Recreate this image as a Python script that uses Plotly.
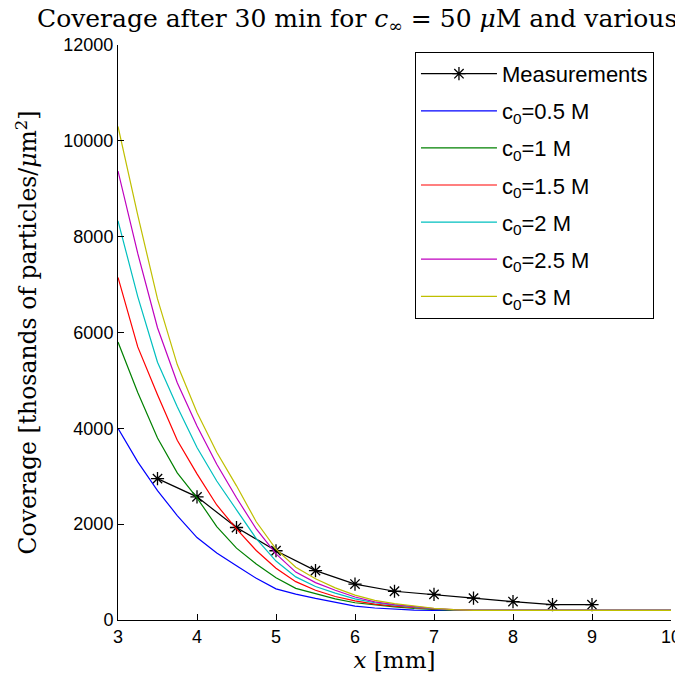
import plotly.graph_objects as go

# Measurements
meas_x = [3.5, 4.0, 4.5, 5.0, 5.5, 6.0, 6.5, 7.0, 7.5, 8.0, 8.5, 9.0]
meas_y = [2950, 2570, 1930, 1445, 1030, 750, 600, 535, 455, 385, 320, 320]

# Simulated coverage curves (x grid in mm)
sim_x = [3.0, 3.25, 3.5, 3.75, 4.0, 4.25, 4.5, 4.75, 5.0, 5.25, 5.5, 5.75,
         6.0, 6.25, 6.5, 6.75, 7.0, 7.25, 7.5, 10.0]
c05 = [4000, 3300, 2700, 2180, 1720, 1400, 1130, 870, 650, 540, 450, 370,
       290, 250, 225, 205, 200, 200, 200, 200]
c1 = [5800, 4750, 3800, 3070, 2550, 1950, 1500, 1170, 880, 660, 550, 440,
      360, 310, 275, 240, 215, 200, 200, 200]
c15 = [7150, 5700, 4700, 3750, 3050, 2400, 1900, 1450, 1080, 800, 620, 490,
       400, 330, 290, 255, 230, 210, 200, 200]
c2 = [8330, 6750, 5380, 4450, 3600, 2900, 2300, 1700, 1230, 900, 700, 560,
      440, 360, 310, 265, 235, 210, 200, 200]
c25 = [9370, 7650, 6100, 4950, 4050, 3250, 2550, 1900, 1380, 1000, 780, 620,
       480, 380, 320, 275, 240, 215, 200, 200]
c3 = [10300, 8450, 6700, 5330, 4330, 3500, 2800, 2050, 1480, 1100, 860, 670,
      520, 410, 340, 285, 245, 215, 200, 200]

series = [
    ("c<sub>0</sub>=0.5 M", c05, "rgb(0,0,255)"),
    ("c<sub>0</sub>=1 M", c1, "rgb(0,128,0)"),
    ("c<sub>0</sub>=1.5 M", c15, "rgb(255,0,0)"),
    ("c<sub>0</sub>=2 M", c2, "rgb(0,191,191)"),
    ("c<sub>0</sub>=2.5 M", c25, "rgb(191,0,191)"),
    ("c<sub>0</sub>=3 M", c3, "rgb(191,191,0)"),
]

x_ticks = [3, 4, 5, 6, 7, 8, 9, 10]
y_ticks = [0, 2000, 4000, 6000, 8000, 10000, 12000]

fig = go.Figure()
fig.add_trace(go.Scatter(
    x=meas_x, y=meas_y, mode="lines+markers", name="Measurements",
    line=dict(color="black", width=1.2),
    marker=dict(symbol="asterisk-open", size=11, color="black",
                line=dict(color="black", width=1.3)),
    legendgroup="m",
))
for i, (name, ys, col) in enumerate(series):
    fig.add_trace(go.Scatter(
        x=sim_x, y=ys, mode="lines", name=name,
        line=dict(color=col, width=1.2), legendgroup="g%d" % i,
    ))

serif = "DejaVu Serif, serif"
sans = "Liberation Sans, Arial, sans-serif"

W, H = 675, 678
PW = W - 110 - 12
fig.update_layout(
    width=W, height=H,
    margin=dict(l=110, r=12, t=37, b=66, autoexpand=False),
    paper_bgcolor="white", plot_bgcolor="white",
    title=dict(
        text="Coverage after 30 min for <i>c</i><sub>∞</sub> = 50 <i>μ</i>M and various <i>c</i><sub>0</sub>",
        x=29 / W, xref="container", xanchor="left",
        y=1 - 10 / H, yref="container", yanchor="middle",
        font=dict(family=serif, size=25, color="black"),
    ),
    font=dict(family=sans, size=18, color="black"),
    showlegend=True,
    legend=dict(
        x=0.537, y=0.988, xanchor="left", yanchor="top",
        bgcolor="white", bordercolor="black", borderwidth=1,
        font=dict(family=sans, size=22, color="black"),
        tracegroupgap=5.5, itemwidth=76,
    ),
    xaxis=dict(
        range=[3, 10], tickvals=x_ticks, ticktext=[str(v) for v in x_ticks],
        showline=True, linecolor="black", linewidth=1, mirror=False,
        ticks="inside", ticklen=6, tickcolor="black", showgrid=False,
        zeroline=False, tickfont=dict(family=sans, size=18), automargin=False,
        title=dict(text="<i>x</i> [mm]", font=dict(family=serif, size=23), standoff=6),
    ),
    yaxis=dict(
        range=[0, 12000], tickvals=y_ticks, ticktext=[str(v) for v in y_ticks],
        showline=True, linecolor="black", linewidth=1, mirror=False,
        ticks="inside", ticklen=6, tickcolor="black", showgrid=False,
        zeroline=False, tickfont=dict(family=sans, size=18), automargin=False,
    ),
    annotations=[dict(
        text="Coverage [thosands of particles/<i>μ</i>m<sup>2</sup>]",
        textangle=-90, xref="paper", yref="paper",
        x=(19 - 110) / PW, y=0.5, xanchor="center", yanchor="middle",
        showarrow=False, font=dict(family=serif, size=23.5, color="black"),
    )],
)

fig.write_html("out.html")
